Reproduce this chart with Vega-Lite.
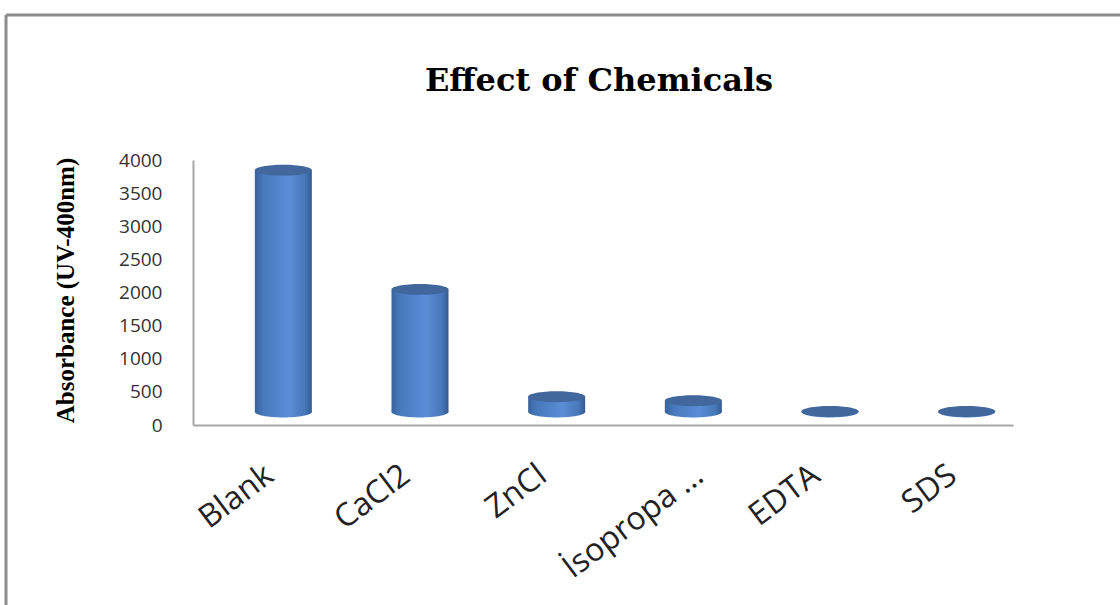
{
  "$schema": "https://vega.github.io/schema/vega-lite/v6.json",
  "autosize": {"type": "none"},
  "padding": {"left": 6, "top": 15, "right": 0, "bottom": 0},
  "width": 1114,
  "height": 590,
  "background": "#ffffff",
  "config": {
    "view": {"stroke": "#8c8c8c", "strokeWidth": 3, "strokeDash": [1114, 1704, 590, 0]}
  },
  "title": {
    "text": "Effect of Chemicals",
    "font": "DejaVu Serif",
    "fontSize": 32,
    "fontWeight": "bold",
    "color": "#000000",
    "anchor": "middle",
    "frame": "group",
    "baseline": "alphabetic",
    "offset": -108,
    "dx": 36
  },
  "data": {
    "values": [
      {"chemical": "Blank", "absorbance": 3650},
      {"chemical": "CaCl2", "absorbance": 1850},
      {"chemical": "ZnCl", "absorbance": 230},
      {"chemical": "İsopropa …", "absorbance": 170},
      {"chemical": "EDTA", "absorbance": 8},
      {"chemical": "SDS", "absorbance": 8}
    ]
  },
  "encoding": {
    "x": {
      "field": "chemical",
      "type": "nominal",
      "sort": null,
      "scale": {"range": [187, 1007], "paddingInner": 0, "paddingOuter": 0},
      "axis": {
        "orient": "bottom",
        "offset": -180,
        "title": null,
        "ticks": false,
        "domainColor": "#a6a6a6",
        "domainWidth": 2,
        "labelAngle": -37,
        "labelAlign": "right",
        "labelBaseline": "middle",
        "labelPadding": 46,
        "labelOffset": {"condition": {"test": "datum.value === 'İsopropa …'", "value": 28}, "value": 8},
        "labelFont": "Open Sans",
        "labelFontSize": 32,
        "labelColor": "#222222",
        "labelOverlap": false,
        "labelLimit": 400
      }
    }
  },
  "layer": [
    {
      "mark": {
        "type": "point",
        "shape": "M -1 0 A 1 0.19 0 1 1 1 0 A 1 0.19 0 1 1 -1 0 Z",
        "size": 3249,
        "filled": true,
        "opacity": 1,
        "strokeWidth": 0,
        "xOffset": 22,
        "yOffset": -13,
        "fill": {
          "gradient": "linear", "x1": 0, "x2": 1, "y1": 0, "y2": 0,
          "stops": [
            {"offset": 0, "color": "#3a629c"},
            {"offset": 0.15, "color": "#4879bd"},
            {"offset": 0.6, "color": "#5a8dd6"},
            {"offset": 0.88, "color": "#4878b9"},
            {"offset": 1, "color": "#335a90"}
          ]
        }
      },
      "encoding": {
        "y": {"datum": 0, "type": "quantitative", "scale": {"domain": [0, 4000], "range": [410, 145]}}
      }
    },
    {
      "mark": {
        "type": "bar",
        "width": 57,
        "xOffset": 22,
        "yOffset": -13,
        "y2Offset": -13,
        "fill": {
          "gradient": "linear", "x1": 0, "x2": 1, "y1": 0, "y2": 0,
          "stops": [
            {"offset": 0, "color": "#3a629c"},
            {"offset": 0.15, "color": "#4879bd"},
            {"offset": 0.6, "color": "#5a8dd6"},
            {"offset": 0.88, "color": "#4878b9"},
            {"offset": 1, "color": "#335a90"}
          ]
        }
      },
      "encoding": {
        "y": {
          "field": "absorbance",
          "type": "quantitative",
          "scale": {"domain": [0, 4000], "range": [410, 145]},
          "axis": {
            "orient": "left",
            "offset": -187,
            "values": [0, 500, 1000, 1500, 2000, 2500, 3000, 3500, 4000],
            "format": "d",
            "grid": false,
            "ticks": false,
            "domainColor": "#a6a6a6",
            "domainWidth": 2,
            "labelFont": "Open Sans",
            "labelFontSize": 19,
            "labelColor": "#333333",
            "labelPadding": 31,
            "title": "Absorbance (UV-400nm)",
            "titleFont": "Liberation Serif",
            "titleFontSize": 25,
            "titleFontWeight": "bold",
            "titleColor": "#000000",
            "titleAngle": -90,
            "titleAlign": "center",
            "titleBaseline": "alphabetic",
            "titleX": -120,
            "titleY": 275
          }
        }
      }
    },
    {
      "mark": {
        "type": "point",
        "shape": "M -1 0 A 1 0.19 0 1 1 1 0 A 1 0.19 0 1 1 -1 0 Z",
        "size": 3249,
        "filled": true,
        "opacity": 1,
        "strokeWidth": 0,
        "fill": "#41679d",
        "xOffset": 22,
        "yOffset": -13
      },
      "encoding": {
        "y": {"field": "absorbance", "type": "quantitative"}
      }
    }
  ]
}
